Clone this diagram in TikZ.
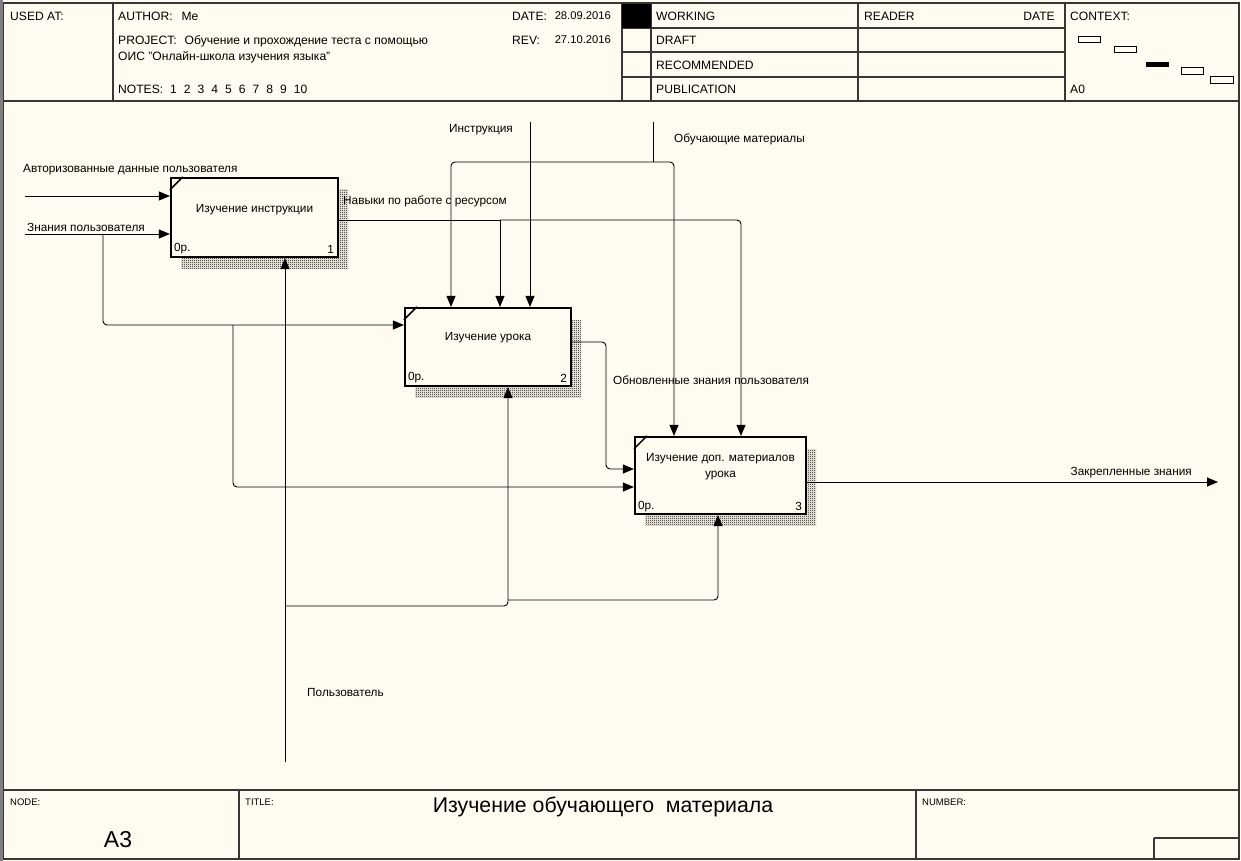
\documentclass[tikz,border=0pt]{standalone}
\usepackage{fontspec}
\setmainfont{Liberation Sans}
\usetikzlibrary{arrows.meta,patterns,calc}
\definecolor{bg}{RGB}{255,251,240}
\definecolor{frm}{RGB}{55,55,55}
\pgfdeclarepatternformonly{checker}{\pgfqpoint{0pt}{0pt}}{\pgfqpoint{2pt}{2pt}}{\pgfqpoint{2pt}{2pt}}{%
  \pgfpathrectangle{\pgfqpoint{0pt}{0pt}}{\pgfqpoint{1pt}{1pt}}%
  \pgfpathrectangle{\pgfqpoint{1pt}{1pt}}{\pgfqpoint{1pt}{1pt}}%
  \pgfusepath{fill}}
\begin{document}
\begin{tikzpicture}[x=1pt,y=-1pt,
  txt/.style={font=\fontsize{11.8}{13}\selectfont, inner sep=0pt, anchor=west, text=black},
  htxt/.style={font=\fontsize{12.1}{13}\selectfont, inner sep=0pt, anchor=west, text=black},
  small/.style={font=\fontsize{9.5}{10}\selectfont, inner sep=0pt, anchor=west, text=black},
  frame/.style={draw=frm, line width=1.3pt},
  abox/.style={draw=black, line width=2.2pt, fill=bg, inner sep=0pt},
  shadow/.style={pattern=checker, pattern color=black},
  arr/.style={draw=black, -{Triangle[length=11pt,width=9pt]}, line width=0.9pt, rounded corners=4pt},
  ln/.style={draw=black, line width=0.9pt, rounded corners=4pt}]
\useasboundingbox (0,0) rectangle (1241,861);
\fill[bg] (0,0) rectangle (1241,861);

% ---------- frame ----------
\draw[frame] (3,3) rectangle (1239,859);
\draw[draw=gray, line width=2.5pt] (1.5,0) -- (1.5,861);
\draw[frame] (3,101) -- (1239,101);
\draw[frame] (113,3) -- (113,101);
\draw[frame] (622,3) -- (622,101);
\draw[frame] (651,3) -- (651,101);
\draw[frame] (858,3) -- (858,101);
\draw[frame] (1065,3) -- (1065,101);
\draw[frame] (622,28) -- (1065,28);
\draw[frame] (622,52) -- (1065,52);
\draw[frame] (622,77) -- (1065,77);
\fill[black] (622,4) rectangle (651,28);
% context
\draw[line width=1pt] (1078,37) rectangle (1100,43);
\draw[line width=1pt] (1114,47) rectangle (1136,53);
\fill[black] (1146,62) rectangle (1169,67);
\draw[line width=1pt] (1181,68) rectangle (1203,75);
\draw[line width=1pt] (1210,77) rectangle (1233,84);

% header texts
\node[htxt] (usedat) at (10,16) {USED AT:};
\node[htxt] (author) at (118,16) {AUTHOR:\hspace{9pt}Me};
\node[htxt] (project) at (118,41) {PROJECT:\hspace{8pt}Обучение и прохождение теста с помощью};
\node[htxt] (project2) at (118,57) {ОИС "Онлайн-школа изучения языка"};
\node[htxt] (notes) at (118,89) {NOTES:\hspace{7pt}1\hspace{7pt}2\hspace{7pt}3\hspace{7pt}4\hspace{7pt}5\hspace{7pt}6\hspace{7pt}7\hspace{7pt}8\hspace{7pt}9\hspace{7pt}10};
\node[htxt] (date) at (512,16) {DATE:};
\node[htxt, anchor=east, font=\fontsize{11.2}{13}\selectfont] (dateval) at (611,16) {28.09.2016};
\node[htxt] (rev) at (512,40) {REV:};
\node[htxt, anchor=east, font=\fontsize{11.2}{13}\selectfont] (revval) at (611,40) {27.10.2016};
\node[htxt] (working) at (656,16) {WORKING};
\node[htxt] (draft) at (656,40) {DRAFT};
\node[htxt] (recom) at (656,65) {RECOMMENDED};
\node[htxt] (publ) at (656,89) {PUBLICATION};
\node[htxt] (reader) at (864,16) {READER};
\node[htxt, anchor=east] (rdate) at (1055,16) {DATE};
\node[htxt] (context) at (1070,16) {CONTEXT:};
\node[htxt] (a0) at (1070,89) {A0};

% ---------- footer ----------
\draw[frame] (3,790) -- (1239,790);
\draw[frame] (239,790) -- (239,859);
\draw[frame] (916,790) -- (916,859);
\draw[frame] (1154,838) -- (1239,838);
\draw[frame] (1154,838) -- (1154,859);
\node[small] (nodelbl) at (10,802) {NODE:};
\node[small] (titlelbl) at (245,802) {TITLE:};
\node[small] (numlbl) at (922,802) {NUMBER:};
\node[font=\fontsize{23}{25}\selectfont, inner sep=0pt] (a3) at (118,840) {A3};
\node[font=\fontsize{21.3}{24}\selectfont, inner sep=0pt] (title) at (603,807) {Изучение обучающего~ материала};

% ---------- boxes ----------
\fill[shadow] (181,190) rectangle (348,268);
\node[abox, minimum width=167pt, minimum height=79pt] (b1) at (254.5,217.5) {};
\fill[shadow] (415,320) rectangle (581,397);
\node[abox, minimum width=166pt, minimum height=78pt] (b2) at (488,347) {};
\fill[shadow] (645,449) rectangle (816,525);
\node[abox, minimum width=171pt, minimum height=77pt] (b3) at (720.5,475.5) {};

\draw[line width=1.5pt] ($(b1.north west)+(0,13)$) -- ($(b1.north west)+(13,0)$);
\draw[line width=1.5pt] ($(b2.north west)+(0,13)$) -- ($(b2.north west)+(13,0)$);
\draw[line width=1.5pt] ($(b3.north west)+(0,13)$) -- ($(b3.north west)+(13,0)$);

\node[txt, anchor=center] (t1) at (254.5,210) {Изучение инструкции};
\node[txt, anchor=west] (n1a) at ($(b1.south west)+(4,-9)$) {0р.};
\node[txt, anchor=east] (n1b) at ($(b1.south east)+(-5,-9)$) {1};
\node[txt, anchor=center] (t2) at (488,338) {Изучение урока};
\node[txt, anchor=west] (n2a) at ($(b2.south west)+(4,-9)$) {0р.};
\node[txt, anchor=east] (n2b) at ($(b2.south east)+(-5,-9)$) {2};
\node[txt, anchor=center, align=center] (t3) at (720.5,467) {Изучение доп. материалов\\[3pt]урока};
\node[txt, anchor=west] (n3a) at ($(b3.south west)+(4,-9)$) {0р.};
\node[txt, anchor=east] (n3b) at ($(b3.south east)+(-5,-9)$) {3};

% ---------- helper coordinates ----------
\coordinate (i1) at (25,196);
\coordinate (i2) at (25,234);
\coordinate (j2) at (103,234);
\coordinate (y2) at (0,325);
\coordinate (j3) at (233,325);
\coordinate (y3) at (0,487);
\coordinate (o1) at (0,220);
\coordinate (k1) at (500,220);
\coordinate (k2) at (741,220);
\coordinate (c1) at (530,122);
\coordinate (c2) at (653,122);
\coordinate (s2) at (653,162);
\coordinate (sl) at (451,162);
\coordinate (sr) at (674,162);
\coordinate (o2) at (0,342);
\coordinate (q2) at (606,342);
\coordinate (y4) at (0,469);
\coordinate (o3) at (0,482);
\coordinate (e3) at (1218,482);
\coordinate (m1) at (285,762);
\coordinate (m2) at (285,606);
\coordinate (m3) at (508,606);
\coordinate (m4) at (508,600);
\coordinate (m5) at (718,600);

% ---------- connectors ----------
\draw[arr] (i1) -- (i1 -| b1.west);
\draw[arr] (i2) -- (i2 -| b1.west);
\draw[arr] (j2) |- (b2.west |- y2);
\draw[arr] (j3) |- (b3.west |- y3);
\draw[ln] (b1.east |- o1) -- (k1);
\draw[arr] (k1) -- (k2) -- (k2 |- b3.north);
\draw[arr] (k1) -- (k1 |- b2.north);
\draw[arr] (c1) -- (c1 |- b2.north);
\draw[ln] (c2) -- (s2);
\draw[arr] (s2) -- (sl) -- (sl |- b2.north);
\draw[arr] (s2) -- (sr) -- (sr |- b3.north);
\draw[arr] (b2.east |- o2) -- (q2) -- (q2 |- y4) -- (b3.west |- y4);
\draw[arr] (b3.east |- o3) -- (e3);
\draw[arr] (m1) -- (m1 |- b1.south);
\draw[arr] (m2) -- (m3) -- (m3 |- b2.south);
\draw[arr] (m4) -- (m5) -- (m5 |- b3.south);

% ---------- labels ----------
\node[txt] (l1) at (23,170) {Авторизованные данные пользователя};
\node[txt] (l2) at (27,227) {Знания пользователя};
\node[txt] (l3) at (343,201) {Навыки по работе с ресурсом};
\node[txt] (l4) at (449,130) {Инструкция};
\node[txt] (l5) at (674,139) {Обучающие материалы};
\node[txt] (l6) at (613,380) {Обновленные знания пользователя};
\node[txt, anchor=east] (l7) at (1192,473) {Закрепленные знания};
\node[txt] (l8) at (307,692) {Пользователь};
\end{tikzpicture}
\end{document}
